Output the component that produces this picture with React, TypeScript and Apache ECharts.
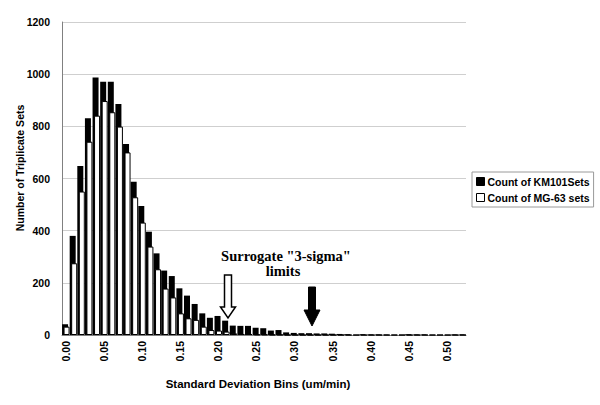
import React, { useEffect, useRef } from "react";
import * as echarts from "echarts";

const categories = [
  "0.00","0.01","0.02","0.03","0.04","0.05","0.06","0.07","0.08","0.09",
  "0.10","0.11","0.12","0.13","0.14","0.15","0.16","0.17","0.18","0.19",
  "0.20","0.21","0.22","0.23","0.24","0.25","0.26","0.27","0.28","0.29",
  "0.30","0.31","0.32","0.33","0.34","0.35","0.36","0.37","0.38","0.39",
  "0.40","0.41","0.42","0.43","0.44","0.45","0.46","0.47","0.48","0.49",
  "0.50","0.51","0.52",
];

const km101 = [
  41, 380, 648, 831, 987, 971, 971, 886, 732, 588,
  495, 396, 313, 247, 226, 179, 151, 119, 83, 66,
  73, 55, 36, 35, 35, 28, 26, 17, 19, 10,
  8, 7, 7, 6, 6, 5, 4, 3, 0, 3,
  2, 2, 1, 0, 0, 3, 2, 2, 0, 0,
  0, 2, 2,
];

const mg63 = [
  32, 275, 550, 741, 841, 897, 854, 799, 700, 528,
  431, 339, 252, 178, 144, 83, 64, 58, 32, 19,
  17, 13, 6, 4, 4, 2, 2, 1, 1, 0,
  0, 0, 0, 0, 0, 0, 0, 0, 0, 0,
  0, 0, 0, 0, 0, 0, 0, 0, 0, 0,
  0, 0, 0,
];

const yTicks = [0, 200, 400, 600, 800, 1000, 1200];

const SANS = "'Liberation Sans', Arial, sans-serif";
const SERIF = "'Liberation Serif', 'Times New Roman', serif";

export default function App() {
  const ref = useRef<HTMLDivElement>(null);
  useEffect(() => {
    document.body.style.margin = "0";
    if (!ref.current) return;
    const chart = echarts.init(ref.current, undefined, { renderer: "svg" });
    chart.setOption({
      animation: false,
      backgroundColor: "#ffffff",
      grid: { left: 62, right: 134, top: 22, bottom: 70, containLabel: false },
      legend: {
        orient: "vertical",
        left: 472,
        top: 172,
        padding: [4, 4, 4, 4],
        itemGap: 5,
        itemWidth: 8,
        itemHeight: 8,
        icon: "rect",
        borderColor: "#9a9a9a",
        borderWidth: 1,
        textStyle: { fontFamily: SANS, fontWeight: "bold", fontSize: 10.5, color: "#000", padding: [0, 0, 0, -2] },
        data: [
          { name: "Count of KM101Sets", itemStyle: { color: "#000", borderColor: "#000", borderWidth: 1 } },
          { name: "Count of MG-63 sets", itemStyle: { color: "#fff", borderColor: "#000", borderWidth: 1 } },
        ],
      },
      xAxis: {
        type: "category",
        data: categories,
        axisLine: { show: true, lineStyle: { color: "#808080", width: 1 } },
        axisTick: { show: false },
        axisLabel: {
          interval: 4,
          rotate: 90,
          margin: 6,
          fontFamily: SANS,
          fontWeight: "bold",
          fontSize: 10.5,
          color: "#000",
        },
        splitLine: { show: false },
      },
      yAxis: {
        type: "value",
        min: yTicks[0],
        max: yTicks[yTicks.length - 1],
        interval: 200,
        axisLine: { show: true, lineStyle: { color: "#808080", width: 1 } },
        axisTick: { show: false },
        axisLabel: {
          margin: 12,
          fontFamily: SANS,
          fontWeight: "bold",
          fontSize: 10.5,
          color: "#000",
          formatter: (v: number) => String(v),
        },
        splitLine: { show: true, lineStyle: { color: "#cfcfcf", width: 1 } },
      },
      series: [
        {
          name: "Count of KM101Sets",
          type: "bar",
          data: km101,
          barWidth: 6,
          barGap: "-75%",
          itemStyle: { color: "#000", borderColor: "#000", borderWidth: 0 },
        },
        {
          name: "Count of MG-63 sets",
          type: "bar",
          data: mg63,
          barWidth: 6,
          itemStyle: { color: "#fff", borderColor: "#000", borderWidth: 1 },
        },
      ],
      graphic: [
        {
          type: "text",
          x: 20,
          y: 168,
          rotation: Math.PI / 2,
          style: {
            text: "Number of Triplicate Sets",
            fontFamily: SANS,
            fontWeight: "bold",
            fontSize: 10.5,
            fill: "#000",
            align: "center",
            verticalAlign: "middle",
          },
        },
        {
          type: "text",
          x: 258,
          y: 384,
          style: {
            text: "Standard Deviation Bins (um/min)",
            fontFamily: SANS,
            fontWeight: "bold",
            fontSize: 11.5,
            fill: "#000",
            align: "center",
            verticalAlign: "middle",
          },
        },
        {
          type: "text",
          x: 286,
          y: 256,
          style: {
            text: 'Surrogate "3-sigma"',
            fontFamily: SERIF,
            fontWeight: "bold",
            fontSize: 14.5,
            fill: "#000",
            align: "center",
            verticalAlign: "middle",
          },
        },
        {
          type: "text",
          x: 283,
          y: 271,
          style: {
            text: "limits",
            fontFamily: SERIF,
            fontWeight: "bold",
            fontSize: 14.5,
            fill: "#000",
            align: "center",
            verticalAlign: "middle",
          },
        },
        {
          type: "polygon",
          shape: {
            points: [
              [224.5, 275], [231.5, 275], [231.5, 307], [235.5, 307],
              [228, 318], [220.5, 307], [224.5, 307],
            ],
          },
          style: { fill: "#fff", stroke: "#000", lineWidth: 1.5 },
          z: 100,
        },
        {
          type: "polygon",
          shape: {
            points: [
              [308.5, 287], [315.5, 287], [315.5, 310], [320, 310],
              [312, 326], [304, 310], [308.5, 310],
            ],
          },
          style: { fill: "#000", stroke: "#000", lineWidth: 1 },
          z: 100,
        },
      ],
    });
    return () => chart.dispose();
  }, []);
  return <div ref={ref} style={{ width: 600, height: 405 }} />;
}
